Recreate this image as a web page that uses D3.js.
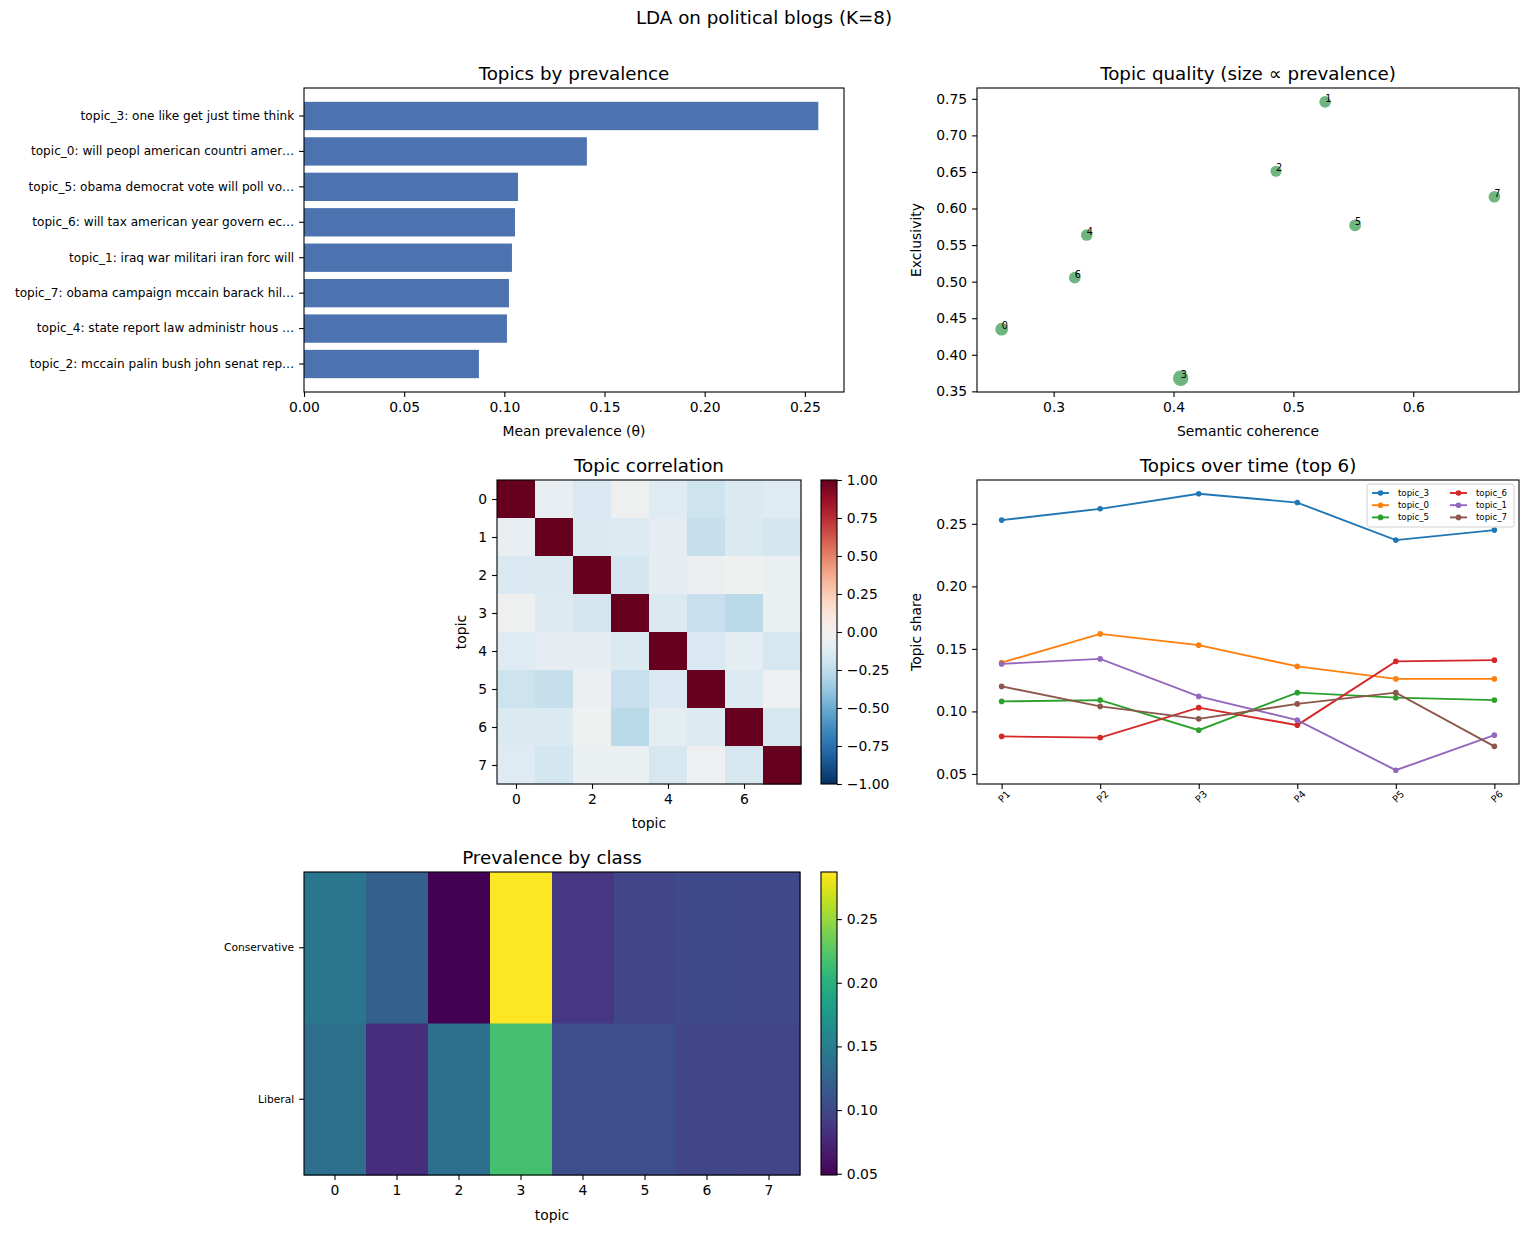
<!DOCTYPE html>
<html lang="en">
<head>
<meta charset="UTF-8">
<title>LDA on political blogs</title>
<style>
  body {margin:0; background:#fff;}
  svg text {font-family:"DejaVu Sans"; fill:#000;}
</style>
</head>
<body>
<svg id="fig" width="1528" height="1233"></svg>
<script src="https://d3js.org/d3.v7.min.js"></script>
<script>
// ---- data ----
var topicIds = [0, 1, 2, 3, 4, 5, 6, 7];
var topicTerms = [
  "will peopl american countri amer…",
  "iraq war militari iran forc will",
  "mccain palin bush john senat rep…",
  "one like get just time think",
  "state report law administr hous …",
  "obama democrat vote will poll vo…",
  "will tax american year govern ec…",
  "obama campaign mccain barack hil…"
];
var prevalence  = [0.1412, 0.1038, 0.0873, 0.2567, 0.1013, 0.1068, 0.1053, 0.1023];
var coherence   = [0.2566, 0.5265, 0.4855, 0.4060, 0.3276, 0.5515, 0.3176, 0.6677];
var exclusivity = [0.4350, 0.7459, 0.6510, 0.3680, 0.5637, 0.5770, 0.5055, 0.6160];

var corr = [
  [ 1.00, -0.07, -0.15, -0.03, -0.12, -0.20, -0.14, -0.12],
  [-0.07,  1.00, -0.14, -0.13, -0.09, -0.23, -0.14, -0.17],
  [-0.15, -0.14,  1.00, -0.17, -0.09, -0.05, -0.02, -0.06],
  [-0.03, -0.13, -0.17,  1.00, -0.14, -0.22, -0.27, -0.06],
  [-0.12, -0.09, -0.09, -0.14,  1.00, -0.15, -0.10, -0.16],
  [-0.20, -0.23, -0.05, -0.22, -0.15,  1.00, -0.13, -0.04],
  [-0.14, -0.14, -0.02, -0.27, -0.10, -0.13,  1.00, -0.16],
  [-0.12, -0.17, -0.06, -0.06, -0.16, -0.04, -0.16,  1.00]
];

var periods = ["P1", "P2", "P3", "P4", "P5", "P6"];
var timeTopics = ["topic_3", "topic_0", "topic_5", "topic_6", "topic_1", "topic_7"];
var timeShares = [
  [0.253, 0.262, 0.274, 0.267, 0.237, 0.245],
  [0.139, 0.162, 0.153, 0.136, 0.126, 0.126],
  [0.108, 0.109, 0.085, 0.115, 0.111, 0.109],
  [0.080, 0.079, 0.103, 0.089, 0.140, 0.141],
  [0.138, 0.142, 0.112, 0.093, 0.053, 0.081],
  [0.120, 0.104, 0.094, 0.106, 0.115, 0.072]
];
var lineColors = ["#1f77b4", "#ff7f0e", "#2ca02c", "#d62728", "#9467bd", "#8c564b"];

var classes = ["Conservative", "Liberal"];
var classPrev = [
  [0.142, 0.121, 0.049, 0.287, 0.087, 0.099, 0.102, 0.101],
  [0.135, 0.080, 0.135, 0.216, 0.106, 0.106, 0.099, 0.097]
];

// ---- helpers ----
var svg = d3.select("#fig");
var TICK = 13.9, TITLE = 18.3;

function styleAxis(g, fs) {
  g.attr("font-family", "DejaVu Sans");
  g.select(".domain").remove();
  g.selectAll(".tick line").attr("stroke", "#000").attr("stroke-width", 1.1);
  g.selectAll(".tick text").attr("font-size", fs || TICK).attr("fill", "#000");
  return g;
}
function frame(x0, y0, x1, y1) {
  svg.append("rect").attr("x", x0).attr("y", y0).attr("width", x1 - x0).attr("height", y1 - y0)
    .attr("fill", "none").attr("stroke", "#000").attr("stroke-width", 1.1);
}
function title(t, cx, y0) {
  svg.append("text").attr("x", cx).attr("y", y0 - 8).attr("text-anchor", "middle")
    .attr("font-size", TITLE).text(t);
}
function xlabel(t, cx, y) {
  svg.append("text").attr("x", cx).attr("y", y).attr("text-anchor", "middle")
    .attr("font-size", TICK).text(t);
}
function ylabel(t, x, cy) {
  svg.append("text").attr("transform", "translate(" + x + "," + cy + ") rotate(-90)")
    .attr("text-anchor", "middle").attr("font-size", TICK).text(t);
}
function padded(ext) {
  var m = (ext[1] - ext[0]) * 0.05;
  return [ext[0] - m, ext[1] + m];
}

// suptitle
svg.append("text").attr("x", 764).attr("y", 24).attr("text-anchor", "middle")
  .attr("font-size", TITLE).text("LDA on political blogs (K=8)");

// ---- 1. Topics by prevalence ----
(function () {
  var x0 = 304, x1 = 844, y0 = 88, y1 = 392;
  var order = topicIds.slice().sort(function (a, b) { return prevalence[b] - prevalence[a]; });
  var x = d3.scaleLinear().domain([0, d3.max(prevalence) * 1.05]).range([x0, x1]);
  var y = d3.scaleBand().domain(order).range([y0, y1]).paddingInner(0.2).paddingOuter(0.39);

  svg.append("g").selectAll("rect").data(order).enter().append("rect")
    .attr("x", x(0)).attr("y", function (d) { return y(d); })
    .attr("width", function (d) { return x(prevalence[d]) - x(0); })
    .attr("height", y.bandwidth())
    .attr("fill", "#4c72b0");

  styleAxis(svg.append("g").attr("transform", "translate(0," + y1 + ")")
    .call(d3.axisBottom(x).tickValues(d3.range(0, 0.26, 0.05)).tickFormat(d3.format(".2f"))
      .tickSize(4.9).tickPadding(4.9).tickSizeOuter(0)));
  styleAxis(svg.append("g").attr("transform", "translate(" + x0 + ",0)")
    .call(d3.axisLeft(y).tickFormat(function (d) { return "topic_" + d + ": " + topicTerms[d]; })
      .tickSize(4.9).tickPadding(4.9).tickSizeOuter(0)), 12.1);
  frame(x0, y0, x1, y1);
  title("Topics by prevalence", (x0 + x1) / 2, y0);
  xlabel("Mean prevalence (θ)", (x0 + x1) / 2, 436);
})();

// ---- 2. Topic quality scatter ----
(function () {
  var x0 = 977, x1 = 1519, y0 = 88, y1 = 392;
  var x = d3.scaleLinear().domain(padded(d3.extent(coherence))).range([x0, x1]);
  var y = d3.scaleLinear().domain(padded(d3.extent(exclusivity))).range([y1, y0]);
  var r = d3.scaleSqrt().domain([0.08, 0.26]).range([5.4, 7.8]);

  var g = svg.append("g");
  g.selectAll("circle").data(topicIds).enter().append("circle")
    .attr("cx", function (d) { return x(coherence[d]); })
    .attr("cy", function (d) { return y(exclusivity[d]); })
    .attr("r", function (d) { return r(prevalence[d]); })
    .attr("fill", "#55a868").attr("fill-opacity", 0.85);
  g.selectAll("text").data(topicIds).enter().append("text")
    .attr("x", function (d) { return x(coherence[d]); })
    .attr("y", function (d) { return y(exclusivity[d]); })
    .attr("font-size", 9.7).text(function (d) { return d; });

  styleAxis(svg.append("g").attr("transform", "translate(0," + y1 + ")")
    .call(d3.axisBottom(x).tickValues([0.3, 0.4, 0.5, 0.6]).tickFormat(d3.format(".1f"))
      .tickSize(4.9).tickPadding(4.9).tickSizeOuter(0)));
  styleAxis(svg.append("g").attr("transform", "translate(" + x0 + ",0)")
    .call(d3.axisLeft(y).tickValues(d3.range(0.35, 0.751, 0.05)).tickFormat(d3.format(".2f"))
      .tickSize(4.9).tickPadding(4.9).tickSizeOuter(0)));
  frame(x0, y0, x1, y1);
  title("Topic quality (size ∝ prevalence)", (x0 + x1) / 2, y0);
  xlabel("Semantic coherence", (x0 + x1) / 2, 436);
  ylabel("Exclusivity", 921, (y0 + y1) / 2);
})();

// ---- 3. Topic correlation ----
(function () {
  var x0 = 497, x1 = 801, y0 = 480, y1 = 784;
  var x = d3.scaleBand().domain(topicIds).range([x0, x1]);
  var y = d3.scaleBand().domain(topicIds).range([y0, y1]);
  var color = function (v) { return d3.interpolateRdBu(1 - (v + 1) / 2); };

  var cells = [];
  corr.forEach(function (row, i) { row.forEach(function (v, j) { cells.push({i: i, j: j, v: v}); }); });
  svg.append("g").selectAll("rect").data(cells).enter().append("rect")
    .attr("x", function (d) { return x(d.j); }).attr("y", function (d) { return y(d.i); })
    .attr("width", x.bandwidth() + 0.5).attr("height", y.bandwidth() + 0.5)
    .attr("fill", function (d) { return color(d.v); });

  var xt = d3.scaleLinear().domain([-0.5, 7.5]).range([x0, x1]);
  var yt = d3.scaleLinear().domain([-0.5, 7.5]).range([y0, y1]);
  styleAxis(svg.append("g").attr("transform", "translate(0," + y1 + ")")
    .call(d3.axisBottom(xt).tickValues([0, 2, 4, 6]).tickFormat(d3.format("d"))
      .tickSize(4.9).tickPadding(4.9).tickSizeOuter(0)));
  styleAxis(svg.append("g").attr("transform", "translate(" + x0 + ",0)")
    .call(d3.axisLeft(yt).tickValues(topicIds).tickFormat(d3.format("d"))
      .tickSize(4.9).tickPadding(4.9).tickSizeOuter(0)));
  frame(x0, y0, x1, y1);
  title("Topic correlation", (x0 + x1) / 2, y0);
  xlabel("topic", (x0 + x1) / 2, 828);
  ylabel("topic", 466, (y0 + y1) / 2);

  // colorbar
  var cx0 = 821, cx1 = 837;
  var cs = d3.scaleLinear().domain([-1, 1]).range([y1, y0]);
  var grad = svg.append("defs").append("linearGradient").attr("id", "gRdBu")
    .attr("x1", 0).attr("y1", 1).attr("x2", 0).attr("y2", 0);
  d3.range(0, 1.0001, 0.02).forEach(function (t) {
    grad.append("stop").attr("offset", t).attr("stop-color", color(t * 2 - 1));
  });
  svg.append("rect").attr("x", cx0).attr("y", y0).attr("width", cx1 - cx0).attr("height", y1 - y0)
    .attr("fill", "url(#gRdBu)");
  styleAxis(svg.append("g").attr("transform", "translate(" + cx1 + ",0)")
    .call(d3.axisRight(cs).tickValues(d3.range(-1, 1.01, 0.25)).tickFormat(d3.format(".2f"))
      .tickSize(4.9).tickPadding(4.9).tickSizeOuter(0)));
  frame(cx0, y0, cx1, y1);
})();

// ---- 4. Topics over time ----
(function () {
  var x0 = 977, x1 = 1519, y0 = 480, y1 = 784;
  var x = d3.scalePoint().domain(periods).range([x0, x1]).padding(0.25);
  var y = d3.scaleLinear().domain(padded(d3.extent(d3.merge(timeShares)))).range([y1, y0]);
  var line = d3.line().x(function (d, i) { return x(periods[i]); }).y(function (d) { return y(d); });

  var g = svg.append("g");
  timeShares.forEach(function (s, k) {
    g.append("path").attr("d", line(s)).attr("fill", "none")
      .attr("stroke", lineColors[k]).attr("stroke-width", 1.9);
    g.selectAll(".m" + k).data(s).enter().append("circle")
      .attr("cx", function (d, i) { return x(periods[i]); }).attr("cy", function (d) { return y(d); })
      .attr("r", 2.8).attr("fill", lineColors[k]);
  });

  var ax = styleAxis(svg.append("g").attr("transform", "translate(0," + y1 + ")")
    .call(d3.axisBottom(x).tickSize(4.9).tickPadding(4.9).tickSizeOuter(0)), 9.7);
  ax.selectAll(".tick text").attr("text-anchor", "end").attr("dy", "0.35em")
    .attr("transform", "translate(2,4) rotate(-45)").attr("y", 6);
  styleAxis(svg.append("g").attr("transform", "translate(" + x0 + ",0)")
    .call(d3.axisLeft(y).tickValues(d3.range(0.05, 0.251, 0.05)).tickFormat(d3.format(".2f"))
      .tickSize(4.9).tickPadding(4.9).tickSizeOuter(0)));
  frame(x0, y0, x1, y1);
  title("Topics over time (top 6)", (x0 + x1) / 2, y0);
  ylabel("Topic share", 921, (y0 + y1) / 2);

  // legend
  var lg = svg.append("g");
  lg.append("rect").attr("x", 1367).attr("y", 484).attr("width", 147).attr("height", 43)
    .attr("rx", 2.5).attr("fill", "#fff").attr("fill-opacity", 0.8)
    .attr("stroke", "#d0d0d0").attr("stroke-width", 1);
  timeTopics.forEach(function (name, k) {
    var col = Math.floor(k / 3), row = k % 3;
    var lx = 1372 + col * 78, ly = 493 + row * 12.2;
    lg.append("line").attr("x1", lx).attr("x2", lx + 17).attr("y1", ly).attr("y2", ly)
      .attr("stroke", lineColors[k]).attr("stroke-width", 1.9);
    lg.append("circle").attr("cx", lx + 8.5).attr("cy", ly).attr("r", 2.8).attr("fill", lineColors[k]);
    lg.append("text").attr("x", lx + 26).attr("y", ly + 3).attr("font-size", 8.6).text(name);
  });
})();

// ---- 5. Prevalence by class ----
(function () {
  var x0 = 304, x1 = 800, y0 = 872, y1 = 1175;
  var x = d3.scaleBand().domain(topicIds).range([x0, x1]);
  var y = d3.scaleBand().domain(classes).range([y0, y1]);
  var color = d3.scaleSequential(d3.interpolateViridis).domain(d3.extent(d3.merge(classPrev)));

  var cells = [];
  classPrev.forEach(function (row, i) { row.forEach(function (v, j) { cells.push({c: classes[i], j: j, v: v}); }); });
  svg.append("g").selectAll("rect").data(cells).enter().append("rect")
    .attr("x", function (d) { return x(d.j); }).attr("y", function (d) { return y(d.c); })
    .attr("width", x.bandwidth() + 0.5).attr("height", y.bandwidth() + 0.5)
    .attr("fill", function (d) { return color(d.v); });

  styleAxis(svg.append("g").attr("transform", "translate(0," + y1 + ")")
    .call(d3.axisBottom(x).tickSize(4.9).tickPadding(4.9).tickSizeOuter(0)));
  styleAxis(svg.append("g").attr("transform", "translate(" + x0 + ",0)")
    .call(d3.axisLeft(y).tickSize(4.9).tickPadding(4.9).tickSizeOuter(0)), 10.7);
  frame(x0, y0, x1, y1);
  title("Prevalence by class", (x0 + x1) / 2, y0);
  xlabel("topic", (x0 + x1) / 2, 1220);

  // colorbar
  var cx0 = 821, cx1 = 837;
  var cs = d3.scaleLinear().domain(color.domain()).range([y1, y0]);
  var grad = svg.append("defs").append("linearGradient").attr("id", "gVir")
    .attr("x1", 0).attr("y1", 1).attr("x2", 0).attr("y2", 0);
  d3.range(0, 1.0001, 0.02).forEach(function (t) {
    grad.append("stop").attr("offset", t).attr("stop-color", d3.interpolateViridis(t));
  });
  svg.append("rect").attr("x", cx0).attr("y", y0).attr("width", cx1 - cx0).attr("height", y1 - y0)
    .attr("fill", "url(#gVir)");
  styleAxis(svg.append("g").attr("transform", "translate(" + cx1 + ",0)")
    .call(d3.axisRight(cs).tickValues(d3.range(0.05, 0.251, 0.05)).tickFormat(d3.format(".2f"))
      .tickSize(4.9).tickPadding(4.9).tickSizeOuter(0)));
  frame(cx0, y0, cx1, y1);
})();
</script>
</body>
</html>
